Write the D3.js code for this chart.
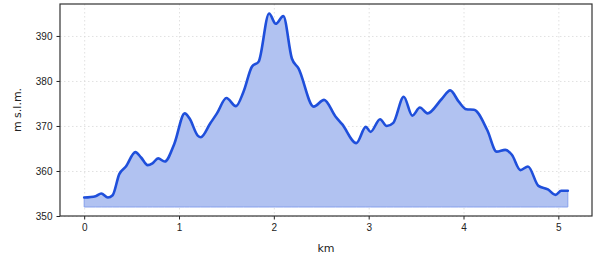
<!DOCTYPE html>
<html>
<head>
<meta charset="utf-8">
<script src="https://cdn.jsdelivr.net/npm/d3@7"></script>
<style>
  body { margin: 0; background: #fff; }
  svg { display: block; font-family: "DejaVu Sans", sans-serif; }
  .grid line { stroke: #d9d9d9; stroke-dasharray: 1.5 2.5; stroke-width: 0.8; }
  .axis text { font-size: 10px; fill: #222; }
  .axis line { stroke: #222; }
</style>
</head>
<body>
<svg id="chart" width="593" height="256"></svg>
<script>
// distance along the route (km) and elevation (m)
var km = [0, 0.12, 0.18, 0.25, 0.30, 0.37, 0.44, 0.54, 0.60, 0.67, 0.72, 0.78, 0.85, 0.95,
  1.06, 1.11, 1.20, 1.23, 1.33, 1.40, 1.50, 1.60, 1.68, 1.77, 1.84, 1.95, 2.02, 2.10,
  2.19, 2.26, 2.42, 2.53, 2.65, 2.72, 2.87, 2.97, 3.02, 3.12, 3.19, 3.26, 3.37, 3.46,
  3.54, 3.62, 3.77, 3.86, 3.95, 4.03, 4.11, 4.25, 4.35, 4.44, 4.51, 4.60, 4.68, 4.79,
  4.89, 4.97, 5.03, 5.10];
var elev = [354.1, 354.4, 355.0, 354.1, 354.6, 359.3, 361.0, 364.2, 363.0, 361.3, 361.7, 362.8, 362.1, 366.0,
  372.8, 371.7, 367.8, 367.5, 370.6, 372.8, 376.2, 374.4, 377.6, 383.2, 384.3, 395.0, 392.7, 394.4,
  385.0, 382.8, 374.3, 375.8, 372.1, 370.4, 366.2, 369.8, 368.7, 371.5, 370.0, 370.7, 376.5, 372.3,
  374.1, 372.8, 376.0, 377.9, 375.4, 373.7, 373.6, 369.1, 364.3, 364.7, 363.6, 360.2, 361.0, 356.7,
  355.9, 354.7, 355.6, 355.6];
var xTicks = [0, 1, 2, 3, 4, 5];
var yTicks = [350, 360, 370, 380, 390];
var fillBase = 352;

var data = km.map(function (d, i) { return {x: d, y: elev[i]}; });

var svg = d3.select("svg#chart"),
    margin = {top: 4, right: 1, bottom: 40, left: 60},
    width = +svg.attr("width") - margin.left - margin.right,
    height = +svg.attr("height") - margin.top - margin.bottom;

var pad = (d3.max(km) - d3.min(km)) * 0.05;
var x = d3.scaleLinear().domain([d3.min(km) - pad, d3.max(km) + pad]).range([0, width]),
    y = d3.scaleLinear().domain([350, 397.1]).range([height, 0]);

var g = svg.append("g")
    .attr("transform", "translate(" + margin.left + "," + margin.top + ")");

// grid
var grid = g.append("g").attr("class", "grid");
grid.selectAll(".gx").data(xTicks).enter().append("line")
    .attr("x1", function (d) { return x(d) + 0.5; }).attr("x2", function (d) { return x(d) + 0.5; })
    .attr("y1", 0).attr("y2", height);
grid.selectAll(".gy").data(yTicks).enter().append("line")
    .attr("y1", function (d) { return y(d) + 0.5; }).attr("y2", function (d) { return y(d) + 0.5; })
    .attr("x1", 0).attr("x2", width);

var curve = d3.curveMonotoneX;

g.append("path")
    .datum(data)
    .attr("fill", "#b1c2f1")
    .attr("stroke", "#86a0ec")
    .attr("stroke-width", 1)
    .attr("d", d3.area().curve(curve)
        .x(function (d) { return x(d.x); })
        .y0(y(fillBase))
        .y1(function (d) { return y(d.y); }));

g.append("path")
    .datum(data)
    .attr("fill", "none")
    .attr("stroke", "#1f4fdb")
    .attr("stroke-width", 2.6)
    .attr("stroke-linejoin", "round")
    .attr("stroke-linecap", "round")
    .attr("d", d3.line().curve(curve)
        .x(function (d) { return x(d.x); })
        .y(function (d) { return y(d.y); }));

// axes
g.append("g")
    .attr("class", "axis")
    .attr("transform", "translate(0," + height + ")")
    .call(d3.axisBottom(x).tickValues(xTicks).tickFormat(d3.format("d")).tickSize(3.5).tickPadding(4))
    .call(function (s) { s.select(".domain").remove(); });

g.append("g")
    .attr("class", "axis")
    .call(d3.axisLeft(y).tickValues(yTicks).tickFormat(d3.format("d")).tickSize(3.5).tickPadding(4))
    .call(function (s) { s.select(".domain").remove(); });

// frame
g.append("rect")
    .attr("x", 0).attr("y", 0)
    .attr("width", width).attr("height", height)
    .attr("fill", "none")
    .attr("stroke", "#333")
    .attr("stroke-width", 1.2);

svg.append("text")
    .attr("x", margin.left + width / 2)
    .attr("y", 252)
    .attr("text-anchor", "middle")
    .attr("font-size", 11)
    .attr("fill", "#222")
    .text("km");

svg.append("text")
    .attr("transform", "translate(21," + (margin.top + height / 2) + ") rotate(-90)")
    .attr("text-anchor", "middle")
    .attr("font-size", 11)
    .attr("fill", "#222")
    .text("m s.l.m.");
</script>
</body>
</html>
